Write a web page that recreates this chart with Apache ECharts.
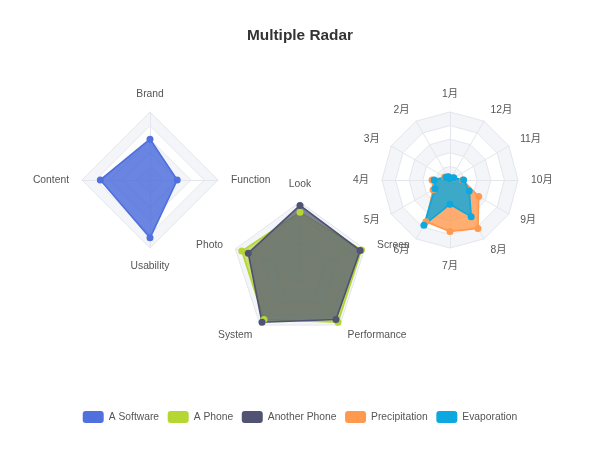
<!DOCTYPE html>
<html>
<head>
<meta charset="utf-8">
<script src="https://cdn.jsdelivr.net/npm/echarts@6/dist/echarts.min.js"></script>
<style>
  html, body { margin: 0; padding: 0; background: #fff; }
  #main { width: 600px; height: 450px; }
</style>
</head>
<body>
<div id="main"></div>
<script>
// data
const softwareIndicators = ['Brand', 'Content', 'Usability', 'Function'];
const phoneIndicators = ['Look', 'Photo', 'System', 'Performance', 'Screen'];
const monthIndicators = ['1月', '2月', '3月', '4月', '5月', '6月', '7月', '8月', '9月', '10月', '11月', '12月'];

const aSoftware = [60, 73, 85, 40];
const aPhone = [85, 90, 90, 95, 95];
const anotherPhone = [95, 80, 95, 90, 93];
const precipitation = [2.6, 5.9, 9.0, 26.4, 28.7, 70.7, 75.6, 82.2, 48.7, 18.8, 6.0, 2.3];
const evaporation = [2.0, 4.9, 7.0, 23.2, 25.6, 76.7, 35.6, 62.2, 32.6, 20.0, 6.4, 3.3];

const legendNames = ['A Software', 'A Phone', 'Another Phone', 'Precipitation', 'Evaporation'];

const FONT = '"Liberation Sans", "Noto Sans CJK SC", sans-serif';
const toIndicator = (names) => names.map(text => ({ text: text, max: 100 }));

const radarCommon = {
  radius: 68,
  nameGap: 13,
  axisName: { fontSize: 10.3, fontFamily: FONT, color: '#555' },
  splitArea: { areaStyle: { color: ['#f3f5f8', '#ffffff'] } },
  splitLine: { lineStyle: { color: '#e3e6ec', width: 1 } },
  axisLine: { lineStyle: { color: '#e3e6ec', width: 1 } }
};

const seriesCommon = {
  type: 'radar',
  symbol: 'circle',
  symbolSize: 7,
  lineStyle: { width: 1.7 }
};

const chart = echarts.init(document.getElementById('main'));

chart.setOption({
  textStyle: { fontFamily: FONT },
  title: {
    text: 'Multiple Radar',
    left: 'center',
    top: 23,
    textStyle: { fontSize: 15.4, fontFamily: FONT, color: '#333' }
  },
  legend: {
    left: 'center',
    bottom: 22,
    itemWidth: 21,
    itemHeight: 12,
    itemGap: 8.6,
    textStyle: { fontSize: 10.3, fontFamily: FONT, color: '#555' },
    data: legendNames
  },
  radar: [
    Object.assign({ indicator: toIndicator(softwareIndicators), center: ['25%', '40%'] }, radarCommon),
    Object.assign({ indicator: toIndicator(phoneIndicators), center: ['50%', '60%'] }, radarCommon),
    Object.assign({ indicator: toIndicator(monthIndicators), center: ['75%', '40%'] }, radarCommon)
  ],
  series: [
    Object.assign({}, seriesCommon, {
      areaStyle: { opacity: 0.85 },
      data: [{ value: aSoftware, name: 'A Software' }]
    }),
    Object.assign({}, seriesCommon, {
      radarIndex: 1,
      areaStyle: { opacity: 0.7 },
      data: [
        { value: aPhone, name: 'A Phone' },
        { value: anotherPhone, name: 'Another Phone' }
      ]
    }),
    Object.assign({}, seriesCommon, {
      radarIndex: 2,
      areaStyle: { opacity: 0.8 },
      data: [
        { value: precipitation, name: 'Precipitation' },
        { value: evaporation, name: 'Evaporation' }
      ]
    })
  ]
});
</script>
</body>
</html>
